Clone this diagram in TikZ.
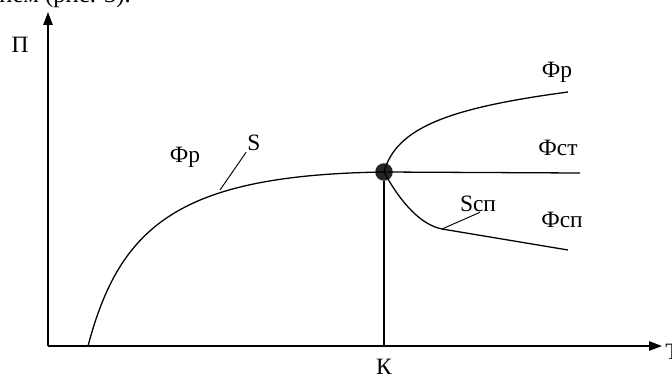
\documentclass[tikz,border=0pt]{standalone}
\usepackage{fontspec}
\setmainfont{Liberation Serif}
\usetikzlibrary{arrows.meta, calc, positioning}

\begin{document}
\begin{tikzpicture}[
    x=0.03cm, y=-0.03cm,
    axis/.style={line width=1.1pt, -{Triangle[length=11pt, width=8pt]}},
    branch/.style={line width=1.1pt},
    leader/.style={line width=0.8pt},
    lbl/.style={font=\fontsize{20}{22}\selectfont, inner sep=1pt},
    dot/.style={circle, fill=black!85, inner sep=0pt, minimum size=15pt},
]
\useasboundingbox (0,0) rectangle (672,383);

% =============================================================================
% Page text cut off above the figure
% =============================================================================
\node[font=\fontsize{21}{23}\selectfont, anchor=base east, inner sep=0pt] (cut) at (131,2) {нием (рис. 3).};

% =============================================================================
% Axes
% =============================================================================
\coordinate (O) at (48,346);
\coordinate (Ptop) at (48,12);
\coordinate (Tend) at (662,346);
\draw[axis] (O) -- (Ptop);
\draw[axis] (O) -- (Tend);
\node[lbl] (P) at (20,45) {П};
\node[lbl, anchor=west] (T) at (664,352) {Т};

% Critical point K
\node[dot] (Kdot) at (384,172) {};
\coordinate (Kfoot) at (384,346);
\draw[branch] (Kdot) -- (Kfoot);
\node[lbl] (K) at (384,367) {К};

% =============================================================================
% Curve S up to the critical point
% =============================================================================
\coordinate (S0) at (88,346);
\draw[branch] (S0) .. controls (120,225) and (180,175) .. (Kdot.center);
\node[lbl] (Fr1) at (185,157) {Фр};
\node[lbl] (S) at (254,143) {S};
\coordinate (Spt) at (220,190);
\draw[leader] (S.south west) -- (Spt);

% =============================================================================
% Branches after the critical point
% =============================================================================
% upper branch
\coordinate (Rend) at (568,92);
\draw[branch] (Kdot.center) .. controls (396,128) and (448,108) .. (Rend);
\node[lbl] (Fr2) at (557,72) {Фр};

% middle branch
\coordinate (STend) at (580,173);
\draw[branch] (Kdot.center) -- (STend);
\node[lbl] (Fst) at (558,148) {Фст};

% lower branch
\coordinate (Ssp) at (442,229);
\coordinate (SPend) at (568,250);
\draw[branch] (Kdot.center) .. controls (402,205) and (422,225) .. (Ssp) -- (SPend);
\node[lbl] (Fsp) at (562,220) {Фсп};
\node[lbl] (Sspl) at (478,204) {Sсп};
\draw[leader] (Sspl.south) ++(2,-1) coordinate (Slead) (Slead) -- (Ssp);

\end{tikzpicture}
\end{document}
